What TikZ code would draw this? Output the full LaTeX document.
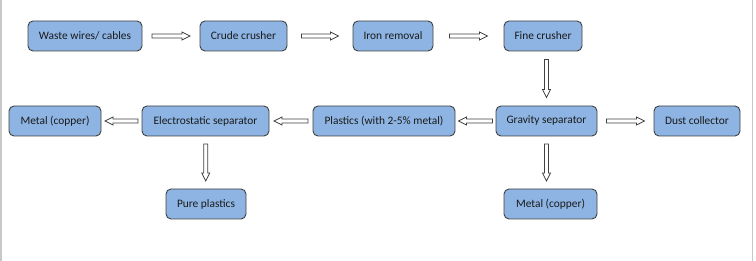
\documentclass[tikz,border=0pt]{standalone}
\usepackage{fontspec}
\setmainfont{Carlito}
\usetikzlibrary{calc}
\definecolor{boxfill}{HTML}{8DB4E2}
\definecolor{boxline}{HTML}{404040}
\definecolor{frameline}{HTML}{C8C8C8}
\definecolor{txt}{HTML}{1A1A1A}
\tikzset{
  procbox/.style={draw=boxline, fill=boxfill, line width=0.9pt, rounded corners=5pt,
    minimum height=30pt, inner sep=0pt, text=txt, font=\fontsize{11.4}{13}\selectfont},
  barrowstyle/.style={draw=black!75, fill=white, line width=0.7pt, line join=miter}
}
% block arrow of length #3 centred between anchors #1 and #2, rotated by #4
\newcommand\blockarrow[4]{%
  \begin{scope}[shift={($(#1)!0.5!(#2)$)}, rotate=#4]
    \draw[barrowstyle] (-#3/2,2) -- (#3/2-8,2) -- (#3/2-8,4) -- (#3/2,0)
      -- (#3/2-8,-4) -- (#3/2-8,-2) -- (-#3/2,-2) -- cycle;
  \end{scope}}
\begin{document}
\begin{tikzpicture}[x=1pt,y=1pt]
\useasboundingbox (0,0) rectangle (756,261);
\draw[frameline, line width=1.5pt] (1,0) -- (1,261);
\draw[frameline, line width=1.5pt] (752.5,0) -- (752.5,261);

\node[procbox, minimum width=114pt] (waste) at (85,225) {Waste wires/ cables};
\node[procbox, minimum width=87pt] (crude) at (243.5,225) {Crude crusher};
\node[procbox, minimum width=80pt] (iron) at (393,225) {Iron removal};
\node[procbox, minimum width=78pt] (fine) at (543,225) {Fine crusher};

\node[procbox, minimum width=92pt] (metalL) at (55,140) {Metal (copper)};
\node[procbox, minimum width=127pt] (electro) at (205.5,140) {Electrostatic separator};
\node[procbox, minimum width=142pt] (plastics) at (384,140) {Plastics (with 2-5\% metal)};
\node[procbox, minimum width=101pt] (gravity) at (546.5,140) {Gravity separator};
\node[procbox, minimum width=86pt] (dust) at (697,140) {Dust collector};

\node[procbox, minimum width=80pt] (pure) at (206,57) {Pure plastics};
\node[procbox, minimum width=93pt] (metalB) at (550.5,57) {Metal (copper)};

\blockarrow{waste.east}{crude.west}{38}{0}
\blockarrow{crude.east}{iron.west}{37}{0}
\blockarrow{iron.east}{fine.west}{38}{0}
\blockarrow{fine.south -| gravity.north}{gravity.north}{38}{-90}
\blockarrow{gravity.west}{plastics.east}{34}{180}
\blockarrow{plastics.west}{electro.east}{34}{180}
\blockarrow{electro.west}{metalL.east}{33}{180}
\blockarrow{gravity.east}{dust.west}{38}{0}
\blockarrow{electro.south}{pure.north}{37}{-90}
\blockarrow{gravity.south}{gravity.south |- metalB.north}{37}{-90}
\end{tikzpicture}
\end{document}
